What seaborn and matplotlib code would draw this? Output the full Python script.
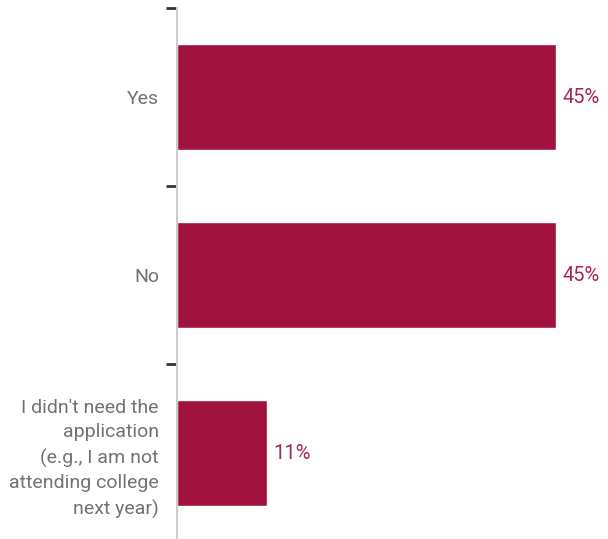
import pandas as pd
import matplotlib.pyplot as plt
import seaborn as sns
from matplotlib.ticker import FixedLocator

# Data
categories = ['Yes', 'No',
              "I didn't need the\napplication\n(e.g., I am not\nattending college\nnext year)"]
values = [45, 45, 10.7]

bar_color = '#A1123E'
pct_color = '#A8284F'
label_gray = '#727272'

df = pd.DataFrame({'answer': categories, 'pct': values})

sns.set_style('white')
plt.rcParams['font.family'] = ['Roboto', 'DejaVu Sans']

fig = plt.figure(figsize=(6.08, 5.39), dpi=100)
ax = fig.add_axes([177 / 608, -3 / 539, 431 / 608, 534 / 539])

sns.barplot(data=df, y='answer', x='pct', orient='h', color=bar_color,
            width=0.6, saturation=1, ax=ax)

ax.set_xlim(0, 51.2)
ax.set_ylim(2.5, -0.5)
ax.set_xlabel('')
ax.set_ylabel('')
ax.set_xticks([])

for s in ['top', 'right', 'bottom']:
    ax.spines[s].set_visible(False)
ax.spines['left'].set_color('#cccccc')
ax.spines['left'].set_linewidth(1.5)

# category labels without ticks, short dark ticks between categories
ax.tick_params(axis='y', which='major', length=0, pad=13, labelsize=14, labelcolor=label_gray)
ax.yaxis.set_minor_locator(FixedLocator([-0.5, 0.5, 1.5]))
ax.tick_params(axis='y', which='minor', length=8, width=2, color='#333333', left=True)
for lbl in ax.get_yticklabels():
    lbl.set_linespacing(1.48)

ax.bar_label(ax.containers[0], labels=[f'{v:.0f}%' for v in values],
             padding=4.5, color=pct_color, fontsize=14.5)

fig.savefig('out.png', dpi=100)
